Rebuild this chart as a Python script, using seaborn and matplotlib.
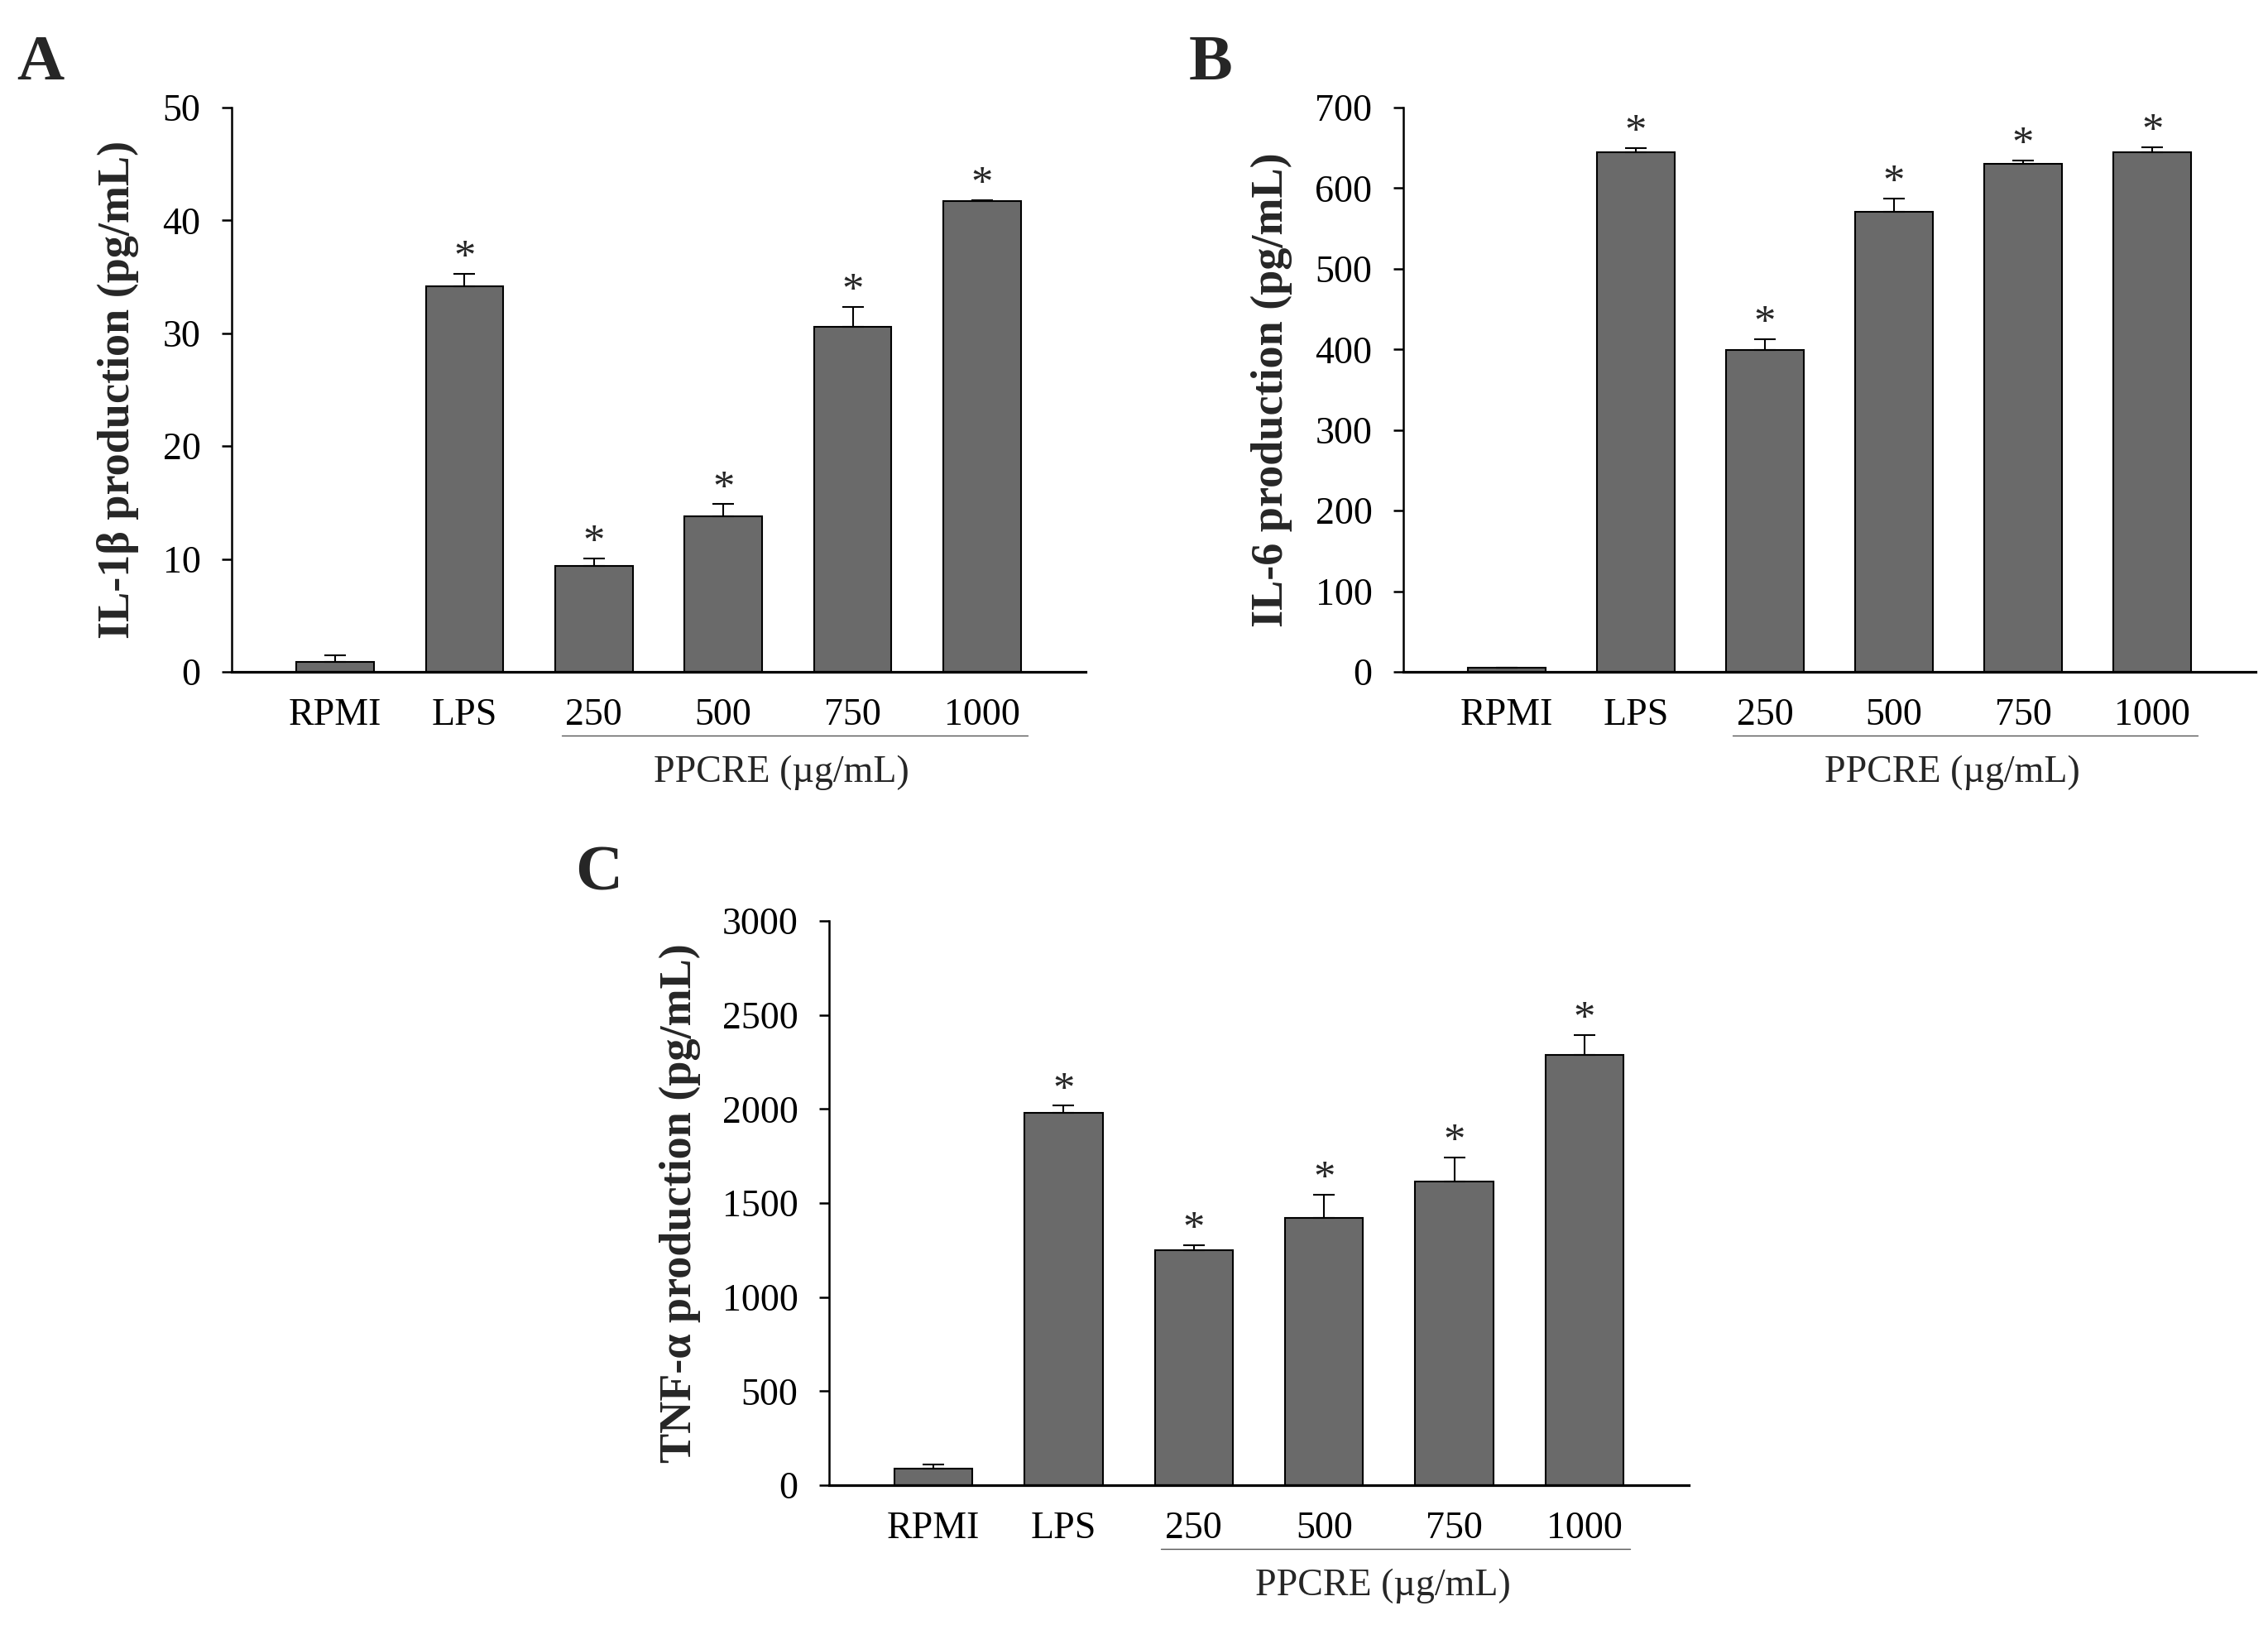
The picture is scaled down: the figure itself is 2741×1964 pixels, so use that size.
import matplotlib
matplotlib.use("Agg")
import matplotlib.pyplot as plt
import matplotlib.transforms as mtransforms
import seaborn as sns
import numpy as np

# ---------------- data ----------------
categories = ["RPMI", "LPS", "250", "500", "750", "1000"]

il1b_values = [0.9, 34.2, 9.4, 13.8, 30.6, 41.7]
il1b_errors = [0.55, 1.1, 0.65, 1.05, 1.75, 0.12]

il6_values = [5, 645, 399, 571, 630, 645]
il6_errors = [0, 5, 14, 16, 4, 6]

tnf_values = [90, 1979, 1248, 1422, 1614, 2288]
tnf_errors = [18, 38, 27, 124, 127, 106]

significant = [False, True, True, True, True, True]

ylabels = ["IL-1\u03b2 production (pg/mL)",
           "IL-6 production (pg/mL)",
           "TNF-\u03b1 production (pg/mL)"]
yticks_list = [np.arange(0, 51, 10), np.arange(0, 701, 100), np.arange(0, 3001, 500)]
panel_letters = ["A", "B", "C"]
group_label = "PPCRE (\u00b5g/mL)"

# ---------------- style ----------------
sns.set_theme(style="white")
plt.rcParams["font.family"] = ["Liberation Serif", "DejaVu Serif"]

W, H = 2741, 1964
fig = plt.figure(figsize=(W / 100, H / 100), dpi=100)

axes_px = [  # left, right, top, bottom (pixels)
    (280, 1312, 130, 812),
    (1696, 2726, 130, 812),
    (1002, 2041, 1113, 1795),
]
ylabel_x = [-0.1085, -0.130, -0.149]
letter_pos = [(20, 96), (1437, 96), (695, 1076)]

data = [(il1b_values, il1b_errors), (il6_values, il6_errors), (tnf_values, tnf_errors)]

bar_color = "#6a6a6a"

for k, ((vals, errs), (l, r, t, b)) in enumerate(zip(data, axes_px)):
    ax = fig.add_axes([l / W, 1 - b / H, (r - l) / W, (b - t) / H])
    sns.barplot(x=categories, y=vals, color=bar_color, edgecolor="black",
                linewidth=1.5, width=0.6, saturation=1, ax=ax, zorder=2)
    xs = np.arange(len(categories))
    vals_a = np.asarray(vals, dtype=float)
    errs_a = np.asarray(errs, dtype=float)
    ax.errorbar(xs, vals_a, yerr=[np.zeros_like(errs_a), errs_a], fmt="none",
                ecolor="black", elinewidth=1.5, capsize=9.6, capthick=1.5, zorder=3)
    for x, v, e, s in zip(xs, vals_a, errs_a, significant):
        if s:
            ax.annotate("*", xy=(x, v + e), xytext=(0, 3.5), textcoords="offset points",
                        ha="center", va="baseline", fontsize=38)

    ax.set_xlim(-0.8, 5.8)
    yt = yticks_list[k]
    ax.set_ylim(yt[0], yt[-1])
    ax.set_yticks(yt)
    ax.set_yticklabels([str(v) for v in yt])
    ax.set_xlabel("")
    ax.set_ylabel(ylabels[k], fontsize=39, fontweight="bold")
    ax.yaxis.set_label_coords(ylabel_x[k], 0.5)

    for side in ["top", "right"]:
        ax.spines[side].set_visible(False)
    ax.spines["left"].set_linewidth(1.8)
    ax.spines["bottom"].set_linewidth(2.3)
    ax.spines["left"].set_color("black")
    ax.spines["bottom"].set_color("black")
    ax.spines["bottom"].set_zorder(4)

    ax.tick_params(axis="y", direction="out", length=9, width=1.8, pad=18,
                   labelsize=33, colors="black", left=True)
    ax.tick_params(axis="x", length=0, pad=22.5, labelsize=33, colors="black")
    ax.grid(False)

    trans = mtransforms.blended_transform_factory(ax.transData, ax.transAxes)
    ax.plot([1.75, 5.35], [-0.113, -0.113], transform=trans, color="#555555",
            lw=1.0, clip_on=False)
    ax.text(3.45, -0.179, group_label, transform=trans, ha="center", va="center",
            fontsize=33)

    lx, ly = letter_pos[k]
    fig.text(lx / W, 1 - ly / H, panel_letters[k], ha="left", va="baseline",
             fontsize=57, fontweight="bold")

fig.savefig("out.png", dpi=100, facecolor="white")
